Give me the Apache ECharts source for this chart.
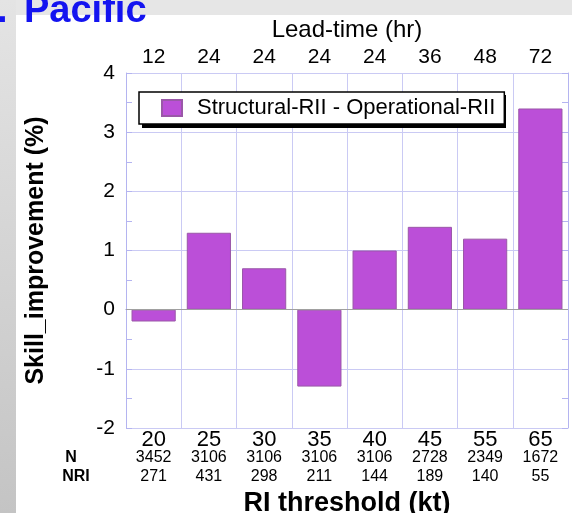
<!DOCTYPE html>
<html>
<head>
<meta charset="utf-8">
<script src="https://cdn.jsdelivr.net/npm/echarts@6/dist/echarts.min.js"></script>
<style>
  html, body { margin: 0; padding: 0; background: #fff; }
  #chart { width: 572px; height: 513px; }
</style>
</head>
<body>
<div id="chart"></div>
<script>
// RI thresholds (bottom axis) and matching lead times (top axis)
const thresholds = ['20', '25', '30', '35', '40', '45', '55', '65']
const leadTimes = ['12', '24', '24', '24', '24', '36', '48', '72']
const nCounts = [3452, 3106, 3106, 3106, 3106, 2728, 2349, 1672]
const nriCounts = [271, 431, 298, 211, 144, 189, 140, 55]
// Structural-RII minus Operational-RII skill (%)
const skillImprovement = [-0.2, 1.3, 0.7, -1.3, 1.0, 1.4, 1.2, 3.4]

const font = 'Liberation Sans, Arial, sans-serif'
const gridColor = '#cacaf4'
const axisColor = '#b4b4f0'

const chart = echarts.init(document.getElementById('chart'))

const option = {
  animation: false,
  textStyle: { fontFamily: font },
  graphic: [
    // gray frame strips of the slide
    { type: 'rect', z: -10, shape: { x: 0, y: 0, width: 572, height: 15 }, style: { fill: '#e6e6e6' } },
    {
      type: 'rect', z: -10, shape: { x: 0, y: 0, width: 16, height: 513 },
      style: {
        fill: new echarts.graphic.LinearGradient(0, 0, 0, 1, [
          { offset: 0, color: '#e4e4e4' },
          { offset: 1, color: '#c4c4c4' }
        ])
      }
    },
    { type: 'text', left: -3, top: -7, style: { text: '.', fill: '#1414f0', font: 'bold 38px ' + font } },
    { type: 'text', left: 24, top: -7, style: { text: 'Pacific', fill: '#1414f0', font: 'bold 38px ' + font } },
    { type: 'text', x: 71, y: 458, style: { text: 'N', fill: '#000', font: 'bold 16px ' + font, textAlign: 'center', textVerticalAlign: 'middle' } },
    { type: 'text', x: 76, y: 477, style: { text: 'NRI', fill: '#000', font: 'bold 16px ' + font, textAlign: 'center', textVerticalAlign: 'middle' } },
    // drop shadow behind the legend box
    { type: 'rect', z: 3, shape: { x: 142, y: 95, width: 364, height: 33 }, style: { fill: '#000' } }
  ],
  grid: { left: 126, top: 73, right: 4, bottom: 85, outerBoundsMode: 'none' },
  legend: {
    data: ['Structural-RII - Operational-RII'],
    left: 139,
    top: 92,
    z: 5,
    icon: 'rect',
    padding: [5, 9, 5, 22],
    itemWidth: 20,
    itemHeight: 16,
    backgroundColor: '#fff',
    borderColor: '#000',
    borderWidth: 1.5,
    textStyle: { fontSize: 22, color: '#000', padding: [0, 0, 0, 10] }
  },
  xAxis: [
    {
      type: 'category',
      data: thresholds,
      position: 'bottom',
      name: 'RI threshold (kt)',
      nameLocation: 'middle',
      nameGap: 53,
      nameTextStyle: { fontSize: 27, fontWeight: 'bold', color: '#000' },
      axisLine: { lineStyle: { color: axisColor } },
      axisTick: { show: false },
      splitLine: { show: true, lineStyle: { color: gridColor } },
      axisLabel: {
        margin: 1,
        interval: 0,
        formatter: function (value, idx) {
          return '{a|' + value + '}\n{b|' + nCounts[idx] + '}\n{c|' + nriCounts[idx] + '}'
        },
        rich: {
          a: { fontSize: 22, lineHeight: 22, color: '#000' },
          b: { fontSize: 16, lineHeight: 14, color: '#000' },
          c: { fontSize: 16, lineHeight: 24, color: '#000' }
        }
      }
    },
    {
      type: 'category',
      data: leadTimes,
      position: 'top',
      name: 'Lead-time (hr)',
      nameLocation: 'middle',
      nameGap: 26,
      nameTextStyle: { fontSize: 24, color: '#000' },
      axisLine: { lineStyle: { color: axisColor } },
      axisTick: { show: false },
      axisLabel: { fontSize: 21, color: '#000', margin: 5, interval: 0 }
    }
  ],
  yAxis: [
    {
      type: 'value',
      min: -2,
      max: 4,
      interval: 1,
      name: 'Skill_improvement (%)',
      nameLocation: 'middle',
      nameGap: 77,
      nameTextStyle: { fontSize: 25, fontWeight: 'bold', color: '#000' },
      axisLine: { show: true, lineStyle: { color: axisColor } },
      axisTick: { show: true, inside: true, length: 6, lineStyle: { color: axisColor } },
      minorTick: { show: true, splitNumber: 2, length: 6, lineStyle: { color: axisColor } },
      splitLine: { show: true, lineStyle: { color: gridColor } },
      axisLabel: { fontSize: 21, color: '#000', margin: 11 }
    },
    {
      type: 'value',
      min: -2,
      max: 4,
      interval: 1,
      position: 'right',
      axisLine: { show: true, lineStyle: { color: axisColor } },
      axisTick: { show: true, inside: true, length: 6, lineStyle: { color: axisColor } },
      minorTick: { show: true, splitNumber: 2, length: 6, lineStyle: { color: axisColor } },
      splitLine: { show: false },
      axisLabel: { show: false }
    }
  ],
  series: [
    {
      name: 'Structural-RII - Operational-RII',
      type: 'bar',
      data: skillImprovement,
      barWidth: '80%',
      itemStyle: { color: '#bb4fd8', borderColor: '#9a58a8', borderWidth: 1 },
      markLine: {
        silent: true,
        symbol: 'none',
        label: { show: false },
        lineStyle: { color: '#a0a0a0', type: 'solid', width: 1 },
        data: [{ yAxis: 0 }]
      }
    }
  ]
}

chart.setOption(option)
</script>
</body>
</html>
